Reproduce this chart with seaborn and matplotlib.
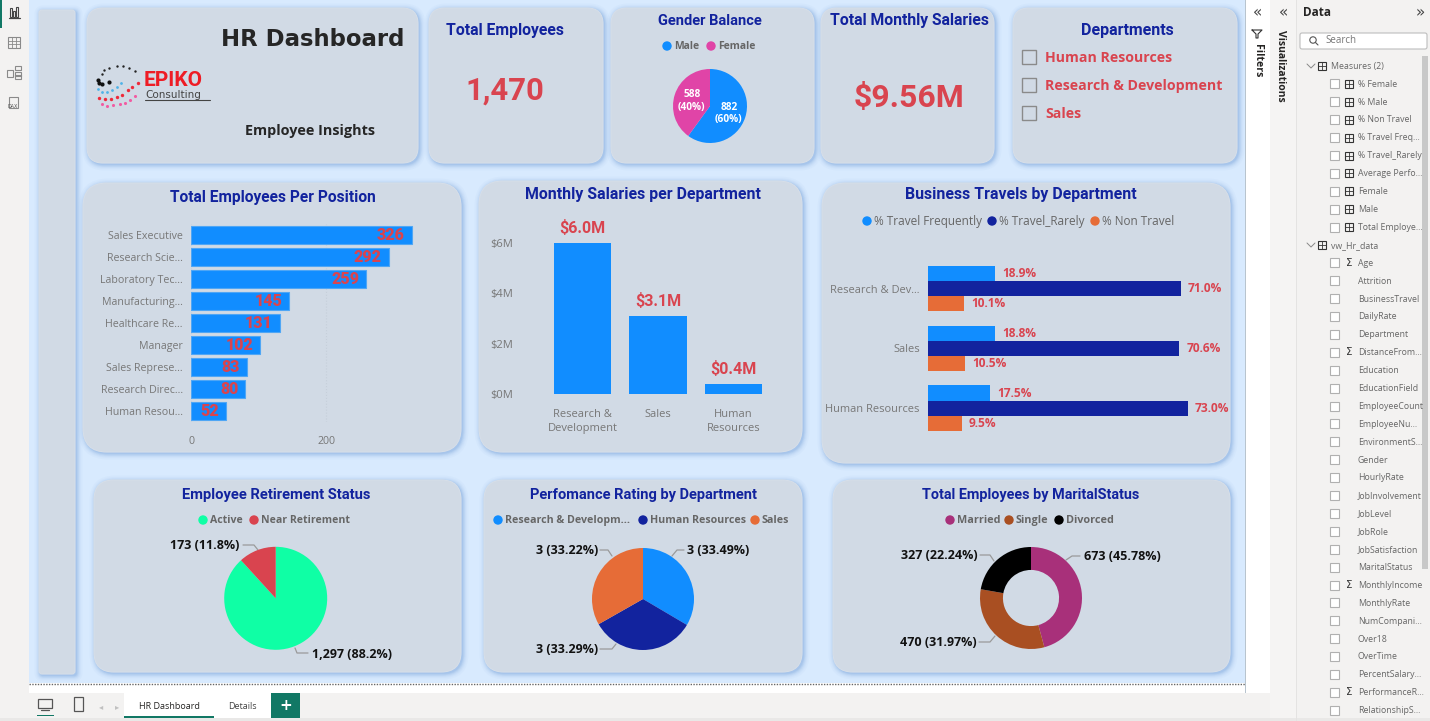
import numpy as np
import pandas as pd
import seaborn as sns
import matplotlib.pyplot as plt
from matplotlib.patches import FancyBboxPatch, Rectangle, Circle

# data
position_labels = ["Sales Executive", "Research Scie...", "Laboratory Tec...", "Manufacturing...", "Healthcare Re...",
	"Manager", "Sales Represe...", "Research Direc...", "Human Resou..."]
position_counts = [326, 292, 259, 145, 131, 102, 83, 80, 52]

salary_departments = ["Research &\nDevelopment", "Sales", "Human\nResources"]
salary_values = [6.0, 3.1, 0.4]

travel_departments = ["Research & Dev...", "Sales", "Human Resources"]
travel_types = ["% Travel Frequently", "% Travel_Rarely", "% Non Travel"]
travel_frequent = [18.9, 18.8, 17.5]
travel_rarely = [71.0, 70.6, 73.0]
travel_non = [10.1, 10.5, 9.5]

gender_labels = ["Male", "Female"]
gender_values = [882, 588]
retirement_labels = ["Active", "Near Retirement"]
retirement_values = [1297, 173]
rating_labels = ["Research & Developm...", "Human Resources", "Sales"]
rating_shares = [33.49, 33.29, 33.22]
marital_labels = ["Married", "Single", "Divorced"]
marital_values = [673, 470, 327]

measure_fields = ["% Female", "% Male", "% Non Travel", "% Travel Freq...", "% Travel_Rarely", "Average Perfo...",
	"Female", "Male", "Total Employe..."]
table_fields = ["Age", "Attrition", "BusinessTravel", "DailyRate", "Department", "DistanceFrom...", "Education",
	"EducationField", "EmployeeCount", "EmployeeNu...", "EnvironmentS...", "Gender", "HourlyRate", "JobInvolvement",
	"JobLevel", "JobRole", "JobSatisfaction", "MaritalStatus", "MonthlyIncome", "MonthlyRate", "NumCompani...",
	"Over18", "OverTime", "PercentSalary...", "PerformanceR...", "RelationshipS..."]
sigma_fields = ["Age", "DistanceFrom...", "MonthlyIncome", "PerformanceR..."]

BLUE = "#118DFF"
NAVY = "#12239E"
ORANGE = "#E66C37"
RED = "#D9444F"
PINK = "#E044A7"
GREEN = "#0FFFA5"
PLUM = "#A8307A"
RUST = "#A94F22"
CARD = "#D1DAE5"
CANVAS = "#D8EAFE"
PANEL = "#F3F2F1"
TEAL = "#117865"

sns.set_theme(style="white")
plt.rcParams["font.family"] = ["Open Sans", "DejaVu Sans"]
plt.rcParams["patch.linewidth"] = 0

W, H = 1430, 721
fig = plt.figure(figsize=(W / 100, H / 100), dpi=100, facecolor=PANEL)
bg = fig.add_axes([0, 0, 1, 1])
bg.set_xlim(0, W)
bg.set_ylim(H, 0)
bg.axis("off")


def rect(x0, y0, x1, y1, color, **kw):
	bg.add_patch(Rectangle((x0, y0), x1 - x0, y1 - y0, facecolor=color, edgecolor=kw.pop("edgecolor", "none"), **kw))


def card(x0, y0, x1, y1, r=16):
	# soft blue glow, then the card itself
	for grow, alpha in [(12, 0.05), (9, 0.06), (7, 0.08), (5, 0.10), (3.5, 0.12), (2, 0.14), (1, 0.16)]:
		bg.add_patch(FancyBboxPatch((x0 + 1.5 - grow / 2, y0 + 1.5 - grow / 2), x1 - x0 + grow, y1 - y0 + grow,
			boxstyle=f"round,pad=0,rounding_size={r + grow / 2}", facecolor="#7FA9DC", edgecolor="none", alpha=alpha))
	bg.add_patch(FancyBboxPatch((x0, y0), x1 - x0, y1 - y0, boxstyle=f"round,pad=0,rounding_size={r}",
		facecolor=CARD, edgecolor="#D6DEE8", linewidth=0.8))


def label(x, y, s, size=8, color="#6F6F6F", weight="normal", ha="left", va="center", family="Open Sans", **kw):
	bg.text(x, y + 0.8, s, fontsize=size, color=color, fontweight=weight, ha=ha, va=va, family=family, **kw)


def title(x, y, s, size=11.2):
	label(x, y, s, size=size, color=NAVY, weight="bold", ha="center", family="Roboto")


def chart_axes(x0, y0, x1, y1):
	ax = fig.add_axes([x0 / W, 1 - y1 / H, (x1 - x0) / W, (y1 - y0) / H])
	ax.patch.set_alpha(0)
	sns.despine(ax=ax, left=True, bottom=True)
	ax.tick_params(length=0, colors="#777777", labelsize=7.7)
	return ax


def pie_axes(cx, cy, r):
	return chart_axes(cx - r, cy - r, cx + r, cy + r)


def legend_row(y, items, size=7.8, weight="bold"):
	for dot_x, text_x, s, color in items:
		bg.add_patch(Circle((dot_x, y), 4.7, facecolor=color, edgecolor="none"))
		label(text_x, y, s, size=size, weight=weight, color="#666666")


def leader(points):
	xs, ys = zip(*points)
	bg.plot(xs, ys, color="#9A9A9A", lw=0.9, solid_capstyle="round")


# page background
rect(29, 0, 1245, 683, CANVAS)
rect(29, 683, 1245, 693, "white")
rect(1245, 0, 1246, 693, "#B8C4CE")
rect(1246, 0, 1270, 693, "white")
rect(1270, 0, 1297, 721, "#F5F4F3")
bg.plot([29, 1245], [683.5, 683.5], color="#666666", lw=1, ls=(0, (1, 1)))
rect(1296, 0, 1297, 721, "#E4E3E2")

# cards
card(39, 10, 75, 674, r=3)
card(87, 8, 418, 163)
card(429, 8, 603, 163)
card(611, 8, 814, 163)
card(821, 8, 994, 163)
card(1013, 8, 1237, 163)
card(83, 183, 461, 452, r=24)
card(479, 181, 802, 452, r=24)
card(822, 183, 1230, 463, r=24)
card(94, 480, 461, 672, r=20)
card(484, 480, 802, 672, r=20)
card(833, 480, 1230, 672, r=20)

# header card
label(404, 38.5, "HR Dashboard", size=16.4, color="#262626", weight="bold", ha="right", family="DejaVu Sans")
label(310, 130, "Employee Insights", size=10.4, color="#262626", weight="bold", ha="center")

# logo
for xs, ys, color, s in [
	([102, 104, 109, 117, 123, 129, 135], [74, 70, 68, 66, 66, 68, 71], "#222222", 3),
	([98, 99, 102, 109], [80, 83, 84, 82], "#111111", 9),
	([98, 102, 107, 112, 117, 121], [89, 92, 92, 90, 87, 83], "#4FB3E8", 4),
	([99, 105, 111, 117, 122, 128, 132, 138], [98, 99, 99, 97, 95, 90, 87, 83], "#EE2A3A", 6),
	([102, 107, 113, 120, 125, 130, 135], [104, 106, 105, 104, 103, 100, 96], "#F25CA2", 5),
]:
	bg.scatter(xs, ys, s=s, color=color, linewidths=0)
label(144, 79.5, "EPIKO", size=15, color="#EE1C25", weight="bold", family="Roboto")
label(145, 94.5, "Consulting", size=7.5, color="#444444", family="DejaVu Sans")
bg.plot([145, 210], [99.5, 99.5], color="#444444", lw=0.8)

# KPI cards
title(505, 30, "Total Employees", size=11.3)
label(505, 90, "1,470", size=22.3, color=RED, weight="bold", ha="center", family="Roboto")
title(710, 20, "Gender Balance", size=10.5)
legend_row(46, [(667, 674, gender_labels[0], BLUE), (711, 718, gender_labels[1], PINK)], size=7.5)
title(909, 20, "Total Monthly Salaries", size=11.3)
label(909, 97, "$9.56M", size=23, color=RED, weight="bold", ha="center", family="Roboto")

# slicer
title(1127, 30, "Departments", size=11.5)
for y, s in zip([57, 85, 113], ["Human Resources", "Research & Development", "Sales"]):
	rect(1022, y - 7, 1036, y + 7, "none", edgecolor="#8A8A8A", linewidth=1)
	label(1045, y, s, size=10.2, color=RED, weight="bold")

# gender pie
ax = pie_axes(710, 106, 37)
ax.pie(gender_values, colors=[BLUE, PINK], startangle=90, counterclock=False, radius=1)
ax.set_xlim(-1, 1)
ax.set_ylim(-1, 1)
ax.text(-0.49, 0.14, f"{gender_values[1]}\n(40%)", fontsize=7.3, color="white", fontweight="bold", ha="center", va="center")
ax.text(0.51, -0.2, f"{gender_values[0]}\n(60%)", fontsize=7.3, color="white", fontweight="bold", ha="center", va="center")

# employees per position
title(273, 197, "Total Employees Per Position")
ax = chart_axes(191, 224, 440, 422)
sns.barplot(x=position_counts, y=position_labels, color=BLUE, saturation=1, width=0.78,
	edgecolor="#4FA6F5", linewidth=0.8, ax=ax)
ax.set_xlim(0, 249 / 0.677)
ax.set_xticks([0, 200])
ax.tick_params(axis="x", pad=10)
ax.tick_params(axis="y", pad=6)
ax.grid(axis="x", color="#C6CFDA", ls=":", lw=0.8)
ax.set_axisbelow(True)
for i, v in enumerate(position_counts):
	ax.annotate(str(v), (v, i), xytext=(-5, 0), textcoords="offset points", ha="right", va="center",
		color=RED, fontsize=11.5, fontweight="black", family="Roboto")

# salaries per department
title(643, 193.5, "Monthly Salaries per Department", size=11.4)
ax = chart_axes(544.75, 215, 771, 394)
sns.barplot(x=salary_departments, y=salary_values, color=BLUE, saturation=1, width=0.76, ax=ax)
ax.set_ylim(0, 179 / 25.2)
ax.set_yticks([0, 2, 4, 6], ["$0M", "$2M", "$4M", "$6M"])
ax.tick_params(axis="x", pad=11, labelsize=8)
ax.tick_params(axis="y", pad=23, labelsize=8)
for t in ax.get_xticklabels():
	t.set_linespacing(1.3)
ax.bar_label(ax.containers[0], fmt="$%.1fM", padding=5, color=RED, fontsize=11.5, fontweight="bold", family="Roboto")

# business travel
title(1021, 193.5, "Business Travels by Department", size=11.4)
legend_row(221, [(867, 874, travel_types[0], BLUE), (992, 999, travel_types[1], NAVY), (1095, 1102, travel_types[2], ORANGE)],
	size=8.5, weight="normal")
travel = pd.DataFrame({
	"department": travel_departments * 3,
	"type": np.repeat(travel_types, 3),
	"pct": travel_frequent + travel_rarely + travel_non,
})
ax = chart_axes(928, 258.8, 1228, 438)
sns.barplot(data=travel, x="pct", y="department", hue="type", palette=[BLUE, NAVY, ORANGE], saturation=1,
	width=0.76, gap=0, legend=False, linewidth=0, ax=ax)
ax.set_xlim(0, 300 / 3.56)
ax.set_xticks([])
ax.set_xlabel("")
ax.set_ylabel("")
ax.tick_params(axis="y", pad=6, labelsize=7.9)
for c in ax.containers:
	ax.bar_label(c, fmt="%.1f%%", padding=5, color=RED, fontsize=8.6, fontweight="bold")

# retirement status
title(276, 494, "Employee Retirement Status", size=10.6)
legend_row(520, [(203, 210, retirement_labels[0], GREEN), (254, 261, retirement_labels[1], RED)], size=7.6)
ax = pie_axes(275.7, 598.3, 51.5)
ax.pie(retirement_values, colors=[GREEN, RED], startangle=90, counterclock=False, radius=1)
ax.set_xlim(-1, 1)
ax.set_ylim(-1, 1)
label(239, 545, "173 (11.8%)", size=9, color="#111111", weight="bold", ha="right")
label(312, 654, "1,297 (88.2%)", size=9, color="#111111", weight="bold")
leader([(243, 545), (254, 545), (258, 550)])
leader([(295, 648), (297, 653), (308, 653)])

# performance rating
title(643, 494, "Perfomance Rating by Department", size=10.5)
legend_row(520, [(498, 505, rating_labels[0], BLUE), (643, 650, rating_labels[1], NAVY), (755, 762, rating_labels[2], ORANGE)], size=7.7)
ax = pie_axes(643, 599, 51)
ax.pie(rating_shares, colors=[BLUE, NAVY, ORANGE], startangle=90, counterclock=False, radius=1)
ax.set_xlim(-1, 1)
ax.set_ylim(-1, 1)
label(687, 550, "3 (33.49%)", size=9, color="#111111", weight="bold")
label(598, 649, "3 (33.29%)", size=9, color="#111111", weight="bold", ha="right")
label(598, 550, "3 (33.22%)", size=9, color="#111111", weight="bold", ha="right")
leader([(600, 550), (608, 550), (612, 556)])
leader([(672, 556), (677, 550), (684, 550)])
leader([(600, 649), (612, 649), (616, 644)])

# marital status
title(1031, 494, "Total Employees by MaritalStatus", size=10.4)
legend_row(520, [(950, 957, marital_labels[0], PLUM), (1009, 1016, marital_labels[1], RUST), (1059, 1066, marital_labels[2], "black")])
ax = pie_axes(1031, 598, 51)
ax.pie(marital_values, colors=[PLUM, RUST, "black"], startangle=90, counterclock=False, radius=1,
	wedgeprops={"width": 0.45})
ax.set_xlim(-1, 1)
ax.set_ylim(-1, 1)
label(1084, 556, "673 (45.78%)", size=9, color="#111111", weight="bold")
label(977, 642, "470 (31.97%)", size=9, color="#111111", weight="bold", ha="right")
label(978, 555, "327 (22.24%)", size=9, color="#111111", weight="bold", ha="right")
leader([(980, 555), (990, 555), (994, 561)])
leader([(1066, 560), (1072, 556), (1080, 556)])
leader([(979, 642), (990, 642), (995, 636)])

# left rail
rect(0, 0, 29, 690, PANEL)
rect(0, 0, 2, 28, TEAL)
for i, h in enumerate([9, 6, 10]):
	rect(10 + i * 3.2, 17 - h, 12 + i * 3.2, 17, "none", edgecolor="#444444", linewidth=0.8)
bg.plot([9, 20], [18, 18], color="#444444", lw=0.9)
rect(8, 37, 20, 48, "none", edgecolor="#8A8A8A", linewidth=0.8)
for v in [12, 16]:
	bg.plot([v, v], [37, 48], color="#8A8A8A", lw=0.6)
for v in [40.5, 44]:
	bg.plot([8, 20], [v, v], color="#8A8A8A", lw=0.6)
for x, y, w, h in [(7, 70, 6, 7), (15, 66, 6, 4), (15, 72, 6, 4), (15, 75, 6, 4)]:
	rect(x, y, x + w, y + h, "none", edgecolor="#8A8A8A", linewidth=0.8)
rect(9, 97, 18, 108, "none", edgecolor="#8A8A8A", linewidth=0.8)
label(12.5, 106, "DAX", size=3.5, color="#555555", ha="center", family="DejaVu Sans")

# bottom tabs
rect(29, 693, 1245, 721, PANEL)
rect(0, 718, 1296, 721, "#E9E8E7")
rect(124, 693, 214, 718, "white")
rect(124, 716, 214, 718, TEAL)
rect(214, 693, 271, 718, "white")
rect(271, 693, 300, 718, TEAL)
label(169, 706, "HR Dashboard", size=6.5, color="#252423", ha="center")
label(242, 706, "Details", size=6.5, color="#444444", ha="center")
label(285.5, 704.5, "+", size=11, color="white", ha="center", weight="bold", family="DejaVu Sans")
rect(38, 699, 52, 708, "none", edgecolor="#555555", linewidth=0.9)
bg.plot([41, 49], [710, 710], color="#555555", lw=0.9)
rect(37, 715, 54, 716, TEAL)
rect(74, 697, 83, 711, "none", edgecolor="#555555", linewidth=0.9)
label(101, 706, "◂", size=6, color="#C0C0C0", ha="center", family="DejaVu Sans")
label(117, 706, "▸", size=6, color="#C0C0C0", ha="center", family="DejaVu Sans")

# filters and visualizations panes
label(1258, 12, "«", size=11, color="#444444", ha="center", family="DejaVu Sans")
label(1284, 12, "«", size=11, color="#444444", ha="center", family="DejaVu Sans")
label(1420, 12, "»", size=11, color="#444444", ha="center", family="DejaVu Sans")
label(1257, 60, "Filters", size=7.6, color="#252423", weight="bold", ha="center", rotation=270)
bg.plot([1252, 1262, 1258, 1258, 1256, 1256, 1252], [30, 30, 34, 38, 38, 34, 30], color="#333333", lw=0.8)
label(1281, 65, "Visualizations", size=7.5, color="#252423", weight="bold", ha="center", rotation=270)

# data pane
label(1303, 12, "Data", size=8.5, color="#252423", weight="bold")
bg.add_patch(FancyBboxPatch((1300, 33), 127, 16, boxstyle="round,pad=0,rounding_size=2", facecolor="white",
	edgecolor="#BDBDBD", linewidth=0.8))
bg.add_patch(Circle((1313, 40), 3.2, facecolor="none", edgecolor="#555555", linewidth=0.8))
bg.plot([1315.5, 1318], [42.5, 45], color="#555555", lw=0.8)
label(1325, 40, "Search", size=7, color="#777777")
rect(1422, 56, 1428, 569, "#C8C8C8")


def table_icon(x, y):
	rect(x, y - 4, x + 8, y + 4, "none", edgecolor="#333333", linewidth=0.8)
	bg.plot([x, x + 8], [y, y], color="#333333", lw=0.6)
	bg.plot([x + 4, x + 4], [y - 4, y + 4], color="#333333", lw=0.6)


def field_row(y, s, icon=None):
	rect(1329.5, y - 4.5, 1338.5, y + 4.5, "white", edgecolor="#B0B0B0", linewidth=0.8)
	if icon == "calc":
		table_icon(1345, y)
	if icon == "sigma":
		label(1349, y - 1, "Σ", size=7.5, color="#333333", ha="center", family="DejaVu Sans")
	label(1358, y - 0.5, s, size=6.3, color="#666666")


def tree_head(y, s, indent):
	bg.plot([1307, 1311, 1315], [y - 2, y + 2, y - 2], color="#888888", lw=0.7)
	table_icon(1318, y)
	label(indent, y - 0.5, s, size=6.3, color="#666666")


row_y = 66
tree_head(row_y, "Measures (2)", 1331)
for s in measure_fields:
	row_y += 17.9
	field_row(row_y, s, "calc")
row_y += 17.9
tree_head(row_y, "vw_Hr_data", 1331)
for s in table_fields:
	row_y += 17.9
	if row_y < 716:
		field_row(row_y, s, "sigma" if s in sigma_fields else None)
rect(1297, 718, 1430, 721, "#E9E8E7")

fig.savefig("out.png", dpi=100, facecolor=fig.get_facecolor())
